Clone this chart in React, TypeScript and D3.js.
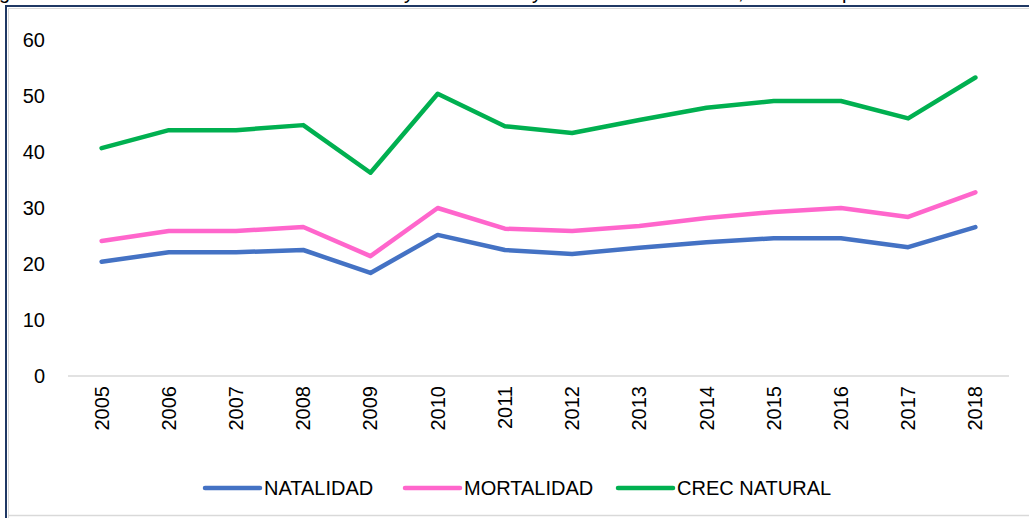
import React from "react";
import * as d3 from "d3";

const years = ["2005","2006","2007","2008","2009","2010","2011","2012","2013","2014","2015","2016","2017","2018"];
const natalidad = [20.4,22.1,22.1,22.5,18.4,25.2,22.5,21.8,22.9,23.9,24.6,24.6,23.0,26.6];
const mortalidad = [24.1,25.9,25.9,26.6,21.4,30.0,26.3,25.9,26.8,28.2,29.3,30.0,28.4,32.8];
const crecNatural = [40.7,43.9,43.9,44.8,36.3,50.4,44.6,43.4,45.7,47.9,49.1,49.1,46.0,53.3];
const yTicks = [0,10,20,30,40,50,60];
const seriesNames = ["NATALIDAD","MORTALIDAD","CREC NATURAL"];
const seriesColors = ["#4472C4","#FF66CC","#00B050"];
// cut-off title fragments visible at the top edge
const titleFragments = [{ t: "g", x: -1 }, { t: "y", x: 404 }, { t: "y", x: 532 }, { t: ",", x: 738 }, { t: "p", x: 842 }];

const W = 1029, H = 518;
const FONT = "'Liberation Sans', Arial, sans-serif";

export default function App() {
  const x = d3.scaleBand<string>().domain(years).range([68, 1009]);
  const y = d3.scaleLinear().domain([0, 60]).range([376, 40]);
  const line = d3.line<number>()
    .x((_, i) => (x(years[i]) as number) + x.bandwidth() / 2)
    .y((d) => y(d));
  const data = [natalidad, mortalidad, crecNatural];
  const legendX = [205, 405, 618];

  return (
    <svg width={W} height={H} style={{ position: "absolute", left: 0, top: 0, background: "#fff" }} fontFamily={FONT}>
      {titleFragments.map((f, i) => (
        <text key={i} x={f.x} y={-1} fontSize={20} fill="#000">{f.t}</text>
      ))}
      {/* frame */}
      <line x1={5} x2={W} y1={6} y2={6} stroke="#1F3864" strokeWidth={2} />
      <line x1={6} x2={6} y1={5} y2={H} stroke="#1F3864" strokeWidth={2} />
      <line x1={8} x2={W} y1={8.5} y2={8.5} stroke="#d9d9d9" strokeWidth={1} />
      <line x1={8.5} x2={8.5} y1={8} y2={H} stroke="#d9d9d9" strokeWidth={1} />
      <line x1={8} x2={W} y1={515.5} y2={515.5} stroke="#d9d9d9" strokeWidth={1.5} />

      {/* y ticks */}
      {yTicks.map((t) => (
        <text key={t} x={45} y={y(t)} dy="0.35em" textAnchor="end" fontSize={20} fill="#000">{t}</text>
      ))}
      {/* baseline */}
      <line x1={68} x2={1009} y1={y(0)} y2={y(0)} stroke="#d9d9d9" strokeWidth={1.5} />
      {/* x ticks */}
      {years.map((yr) => {
        const cx = (x(yr) as number) + x.bandwidth() / 2;
        return (
          <text key={yr} transform={`translate(${cx + 7},386) rotate(-90)`} textAnchor="end" fontSize={20} fill="#000">{yr}</text>
        );
      })}
      {/* lines */}
      {data.map((d, i) => (
        <path key={i} d={line(d) || ""} fill="none" stroke={seriesColors[i]} strokeWidth={4.5} strokeLinecap="round" strokeLinejoin="round" />
      ))}
      {/* legend */}
      {seriesNames.map((n, i) => (
        <g key={n}>
          <line x1={legendX[i]} x2={legendX[i] + 55} y1={488} y2={488} stroke={seriesColors[i]} strokeWidth={4.5} strokeLinecap="round" />
          <text x={legendX[i] + 59} y={488} dy="0.35em" fontSize={20} fill="#000">{n}</text>
        </g>
      ))}
    </svg>
  );
}
